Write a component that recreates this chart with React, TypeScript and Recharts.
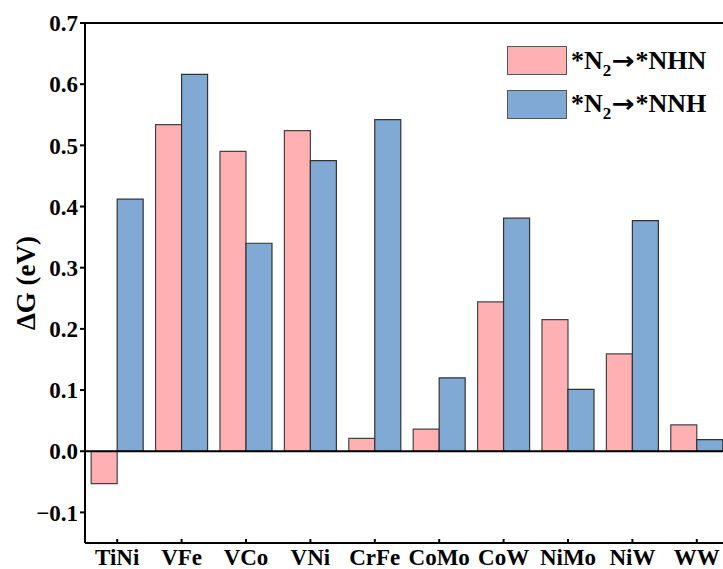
import React from 'react';
import { BarChart, Bar, XAxis, YAxis, ReferenceLine, Legend } from 'recharts';

const categories = ['TiNi', 'VFe', 'VCo', 'VNi', 'CrFe', 'CoMo', 'CoW', 'NiMo', 'NiW', 'WW'];
const nhnValues = [-0.053, 0.534, 0.49, 0.524, 0.021, 0.036, 0.244, 0.215, 0.159, 0.043];
const nnhValues = [0.412, 0.616, 0.34, 0.475, 0.542, 0.12, 0.381, 0.101, 0.377, 0.019];
const yTicks = [-0.1, 0, 0.1, 0.2, 0.3, 0.4, 0.5, 0.6, 0.7];

const data = categories.map((name, i) => ({ name, nhn: nhnValues[i], nnh: nnhValues[i] }));

const FONT = '"Liberation Serif", "Times New Roman", serif';
const PINK = '#FFB0B3';
const BLUE = '#80AAD3';

const XTick = (props: any) => {
  const { x, y, payload } = props;
  return (
    <g>
      <line x1={x} x2={x} y1={y} y2={y - 4} stroke="#000" strokeWidth={2} />
      <text x={x} y={y + 22} textAnchor="middle" fontFamily={FONT} fontWeight="bold" fontSize={23} fill="#000">
        {payload.value}
      </text>
    </g>
  );
};

const LegendBox = () => {
  const rows = [
    { color: PINK, tail: 'NHN' },
    { color: BLUE, tail: 'NNH' },
  ];
  return (
    <div style={{ fontFamily: FONT, fontWeight: 'bold', fontSize: 26, color: '#000' }}>
      {rows.map((r) => (
        <div key={r.tail} style={{ display: 'flex', alignItems: 'center', height: 43.5 }}>
          <span
            style={{
              display: 'inline-block',
              width: 58,
              height: 27,
              background: r.color,
              border: '1px solid #555',
              marginRight: 4,
            }}
          />
          <span style={{ lineHeight: '26px', whiteSpace: 'nowrap' }}>
            *N<sub style={{ fontSize: 17, verticalAlign: -7, lineHeight: 0 }}>2</sub>
            <span style={{ fontFamily: '"DejaVu Sans", sans-serif', fontSize: 24, display: 'inline-block', transform: 'scaleX(1.15)', margin: '0 2px' }}>→</span>
            *{r.tail}
          </span>
        </div>
      ))}
    </div>
  );
};

export default function App() {
  return (
    <div style={{ position: 'fixed', left: 0, top: 0, width: 723, height: 569, overflow: 'hidden', background: '#fff' }}>
      <BarChart
        width={760}
        height={569}
        data={data}
        margin={{ top: 23, right: 31, bottom: 0, left: 0 }}
        barCategoryGap="9.6%"
        barGap={0}
      >
        <XAxis
          dataKey="name"
          height={26}
          tickSize={0}
          tickMargin={0}
          tick={<XTick />}
          interval={0}
          axisLine={{ stroke: '#000', strokeWidth: 2 }}
        />
        <YAxis
          width={85}
          domain={[-0.15, 0.7]}
          ticks={yTicks}
          allowDataOverflow
          tickFormatter={(v: number) => (v < 0 ? '\u2212' + Math.abs(v).toFixed(1) : v.toFixed(1))}
          tick={{ fontFamily: FONT, fontWeight: 'bold', fontSize: 23, fill: '#000' }}
          tickSize={5}
          tickMargin={2}
          tickLine={{ stroke: '#000', strokeWidth: 2 }}
          axisLine={{ stroke: '#000', strokeWidth: 2 }}
          label={{
            content: (p: any) => {
              const vb = p.viewBox;
              const cy = vb.y + vb.height / 2;
              return (
                <text
                  x={35}
                  y={cy}
                  transform={`rotate(-90, 35, ${cy})`}
                  textAnchor="middle"
                  fontFamily={FONT}
                  fontWeight="bold"
                  fontSize={27}
                  fill="#000"
                >
                  ΔG (eV)
                </text>
              );
            },
          }}
        />
        <Legend
          layout="vertical"
          align="center"
          verticalAlign="middle"
          wrapperStyle={{ left: 507, top: 39, width: 'auto' }}
          content={<LegendBox />}
        />
        <Bar dataKey="nhn" name="*N2→*NHN" fill={PINK} stroke="#444" strokeWidth={1.2} isAnimationActive={false} />
        <Bar dataKey="nnh" name="*N2→*NNH" fill={BLUE} stroke="#333" strokeWidth={1.2} isAnimationActive={false} />
        <ReferenceLine y={0} stroke="#000" strokeWidth={2} />
        <ReferenceLine y={0.7} stroke="#000" strokeWidth={2} />
      </BarChart>
    </div>
  );
}
